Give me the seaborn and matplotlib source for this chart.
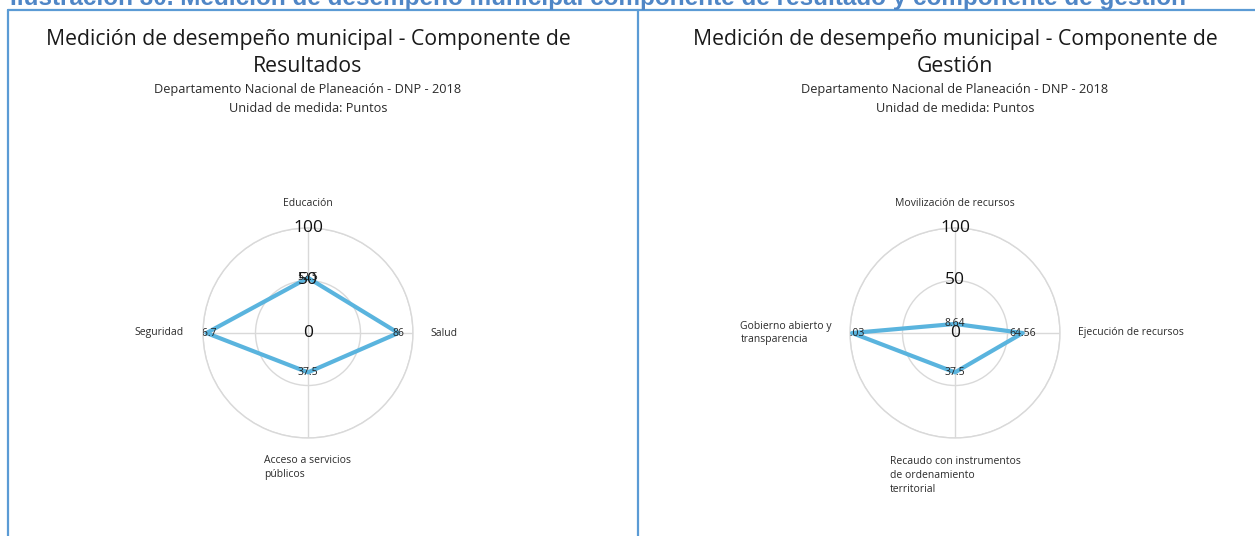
import numpy as np
import pandas as pd
import matplotlib
matplotlib.use("Agg")
import matplotlib.pyplot as plt
import seaborn as sns
from matplotlib.lines import Line2D

# ---- data ----
caption = "Ilustración 30. Medición de desempeño municipal componente de resultado y componente de gestión"
subtitle1 = "Departamento Nacional de Planeación - DNP - 2018"
subtitle2 = "Unidad de medida: Puntos"

res_title = "Medición de desempeño municipal - Componente de\nResultados"
res_categories = ["Educación", "Salud", "Acceso a servicios\npúblicos", "Seguridad"]
res_values = [52.5, 86, 37.5, 96.7]
res_labels = ["52.5", "86", "37.5", "96.7"]

ges_title = "Medición de desempeño municipal - Componente de\nGestión"
ges_categories = ["Movilización de recursos", "Ejecución de recursos",
                  "Recaudo con instrumentos\nde ordenamiento\nterritorial",
                  "Gobierno abierto y\ntransparencia"]
ges_values = [8.64, 64.56, 37.5, 98.03]
ges_labels = ["8.64", "64.56", "37.5", "98.03"]

radial_ticks = [0, 50, 100]

# ---- style ----
sns.set_style("white")
plt.rcParams['font.family'] = ['Open Sans', 'DejaVu Sans']

W, H = 1255, 536
fig = plt.figure(figsize=(W / 100, H / 100), dpi=100)

LINE_COLOR = "#5ab4de"
GRID_COLOR = "#d9d9d9"
BORDER = "#5b9bd5"
TXT = "#2b2b2b"


def fx(px):
    return px / W


def fy(py):
    return 1 - py / H


# caption (partly cut at top like the reference)
fig.text(fx(10), fy(5), caption, ha="left", va="baseline", fontsize=17.5,
         fontweight="bold", color="#4f86c6", family=["Liberation Sans", "DejaVu Sans"])

# border box
for xs, ys in [([8, 1255], [10, 10]), ([8, 8], [10, 536]), ([638, 638], [10, 536])]:
    fig.add_artist(Line2D([fx(x) for x in xs], [fy(y) for y in ys], color=BORDER,
                          lw=1.6, transform=fig.transFigure))


def radar(cx, cy, r, title, cats, vals, labels, cat_specs):
    ax = fig.add_axes([fx(cx - r), fy(cy + r), 2 * r / W, 2 * r / H], projection="polar")
    ax.set_theta_zero_location("N")
    ax.set_theta_direction(-1)
    n = len(cats)
    theta = np.arange(n) * 2 * np.pi / n
    df = pd.DataFrame({"theta": np.append(theta, 2 * np.pi), "value": vals + vals[:1]})
    sns.lineplot(data=df, x="theta", y="value", ax=ax, sort=False, color=LINE_COLOR,
                 lw=3, zorder=3)
    ax.set_ylim(0, 100)
    ax.set_rticks([50, 100])
    ax.set_yticklabels([])
    ax.set_thetagrids(np.degrees(theta), [""] * n)
    ax.grid(True, color=GRID_COLOR, lw=1)
    ax.spines["polar"].set_color(GRID_COLOR)
    ax.spines["polar"].set_linewidth(1)
    ax.set_xlabel("")
    ax.set_ylabel("")
    ax.tick_params(pad=0)
    for t in radial_ticks:
        ax.text(0, t, str(t), ha="center", va="center", fontsize=12.5, color="#111111",
                zorder=4)
    for th, v, lab in zip(theta, vals, labels):
        t = ax.text(th, v, lab, ha="center", va="center", fontsize=7.5, color="#222222",
                    zorder=5, clip_on=True)
        t.set_clip_box(ax.bbox)
    for (dx, dy, ha, va), c in zip(cat_specs, cats):
        fig.text(fx(cx + dx), fy(cy + dy), c, ha=ha, va=va, fontsize=7.5, color=TXT,
                 multialignment="left", linespacing=1.35)
    fig.text(fx(cx), fy(53), title, ha="center", va="center", fontsize=15.3,
             color="#1a1a1a", linespacing=1.38)
    fig.text(fx(cx), fy(90), subtitle1, ha="center", va="center", fontsize=9.2, color=TXT)
    fig.text(fx(cx), fy(108), subtitle2, ha="center", va="center", fontsize=9.2, color=TXT)
    return ax


radar(308, 333, 105, res_title, res_categories, res_values, res_labels,
      [(0, -130, "center", "center"), (122, 0, "left", "center"),
       (0, 122, "center", "top"), (-124, 0, "right", "center")])
radar(955, 333, 105, ges_title, ges_categories, ges_values, ges_labels,
      [(0, -129, "center", "center"), (123, 0, "left", "center"),
       (0, 123, "center", "top"), (-123, 0, "right", "center")])

fig.savefig("out.png", dpi=100, facecolor="white")
